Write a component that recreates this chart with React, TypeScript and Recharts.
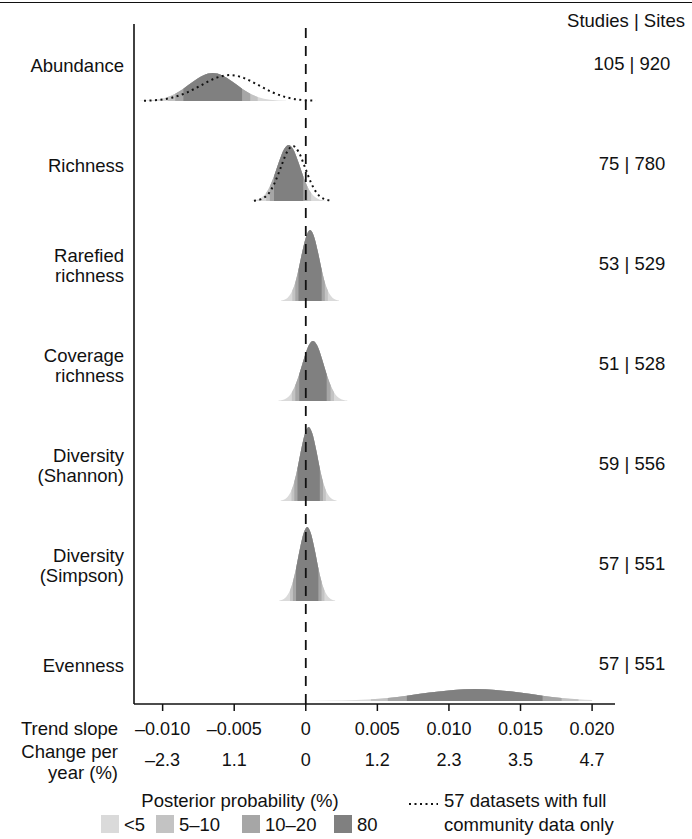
import React from 'react';
import {ComposedChart, Area, Line, XAxis, YAxis, ReferenceLine, Label} from 'recharts';

const FONT = '"Liberation Sans", Arial, Helvetica, sans-serif';
const INK = '#111';
const TEXT_SIZE = 18.5;
const TICK_SIZE = 18;

const ROW_LABELS = [
    ['Abundance'],
    ['Richness'],
    ['Rarefied', 'richness'],
    ['Coverage', 'richness'],
    ['Diversity', '(Shannon)'],
    ['Diversity', '(Simpson)'],
    ['Evenness'],
];
const STUDIES_SITES = ['105 | 920', '75 | 780', '53 | 529', '51 | 528', '59 | 556', '57 | 551', '57 | 551'];

const SLOPE_TICKS = [-0.01, -0.005, 0, 0.005, 0.01, 0.015, 0.02];
const SLOPE_LABELS = ['–0.010', '–0.005', '0', '0.005', '0.010', '0.015', '0.020'];
const PCT_LABELS = ['–2.3', '1.1', '0', '1.2', '2.3', '3.5', '4.7'];

// posterior densities: trend slope and ridge height (in row units)
const ABUNDANCE_X = [-0.01162, -0.0105, -0.00964, -0.00912, -0.00855, -0.00786, -0.00714, -0.0065, -0.00586, -0.00514, -0.00445, -0.00388, -0.00336, -0.0025, -0.00138];
const ABUNDANCE_H = [0.002, 0.012, 0.041, 0.073, 0.123, 0.195, 0.258, 0.28, 0.258, 0.195, 0.123, 0.073, 0.041, 0.012, 0.002];
const RICHNESS_X = [-0.00376, -0.0032, -0.00277, -0.00251, -0.00222, -0.00188, -0.00152, -0.0012, -0.00088, -0.00052, -0.00018, 0.00011, 0.00037, 0.0008, 0.00136];
const RICHNESS_H = [0.003, 0.025, 0.082, 0.146, 0.247, 0.39, 0.517, 0.56, 0.517, 0.39, 0.247, 0.146, 0.082, 0.025, 0.003];
const RAREFIED_X = [-0.00172, -0.00128, -0.00094, -0.00073, -0.00051, -0.00024, 0.00005, 0.0003, 0.00055, 0.00084, 0.00111, 0.00133, 0.00154, 0.00188, 0.00232];
const RAREFIED_H = [0.004, 0.031, 0.104, 0.185, 0.313, 0.495, 0.655, 0.71, 0.655, 0.495, 0.313, 0.185, 0.104, 0.031, 0.004];
const COVERAGE_X = [-0.0019, -0.00138, -0.00097, -0.00073, -0.00046, -0.00014, 0.0002, 0.0005, 0.0008, 0.00114, 0.00146, 0.00173, 0.00197, 0.00238, 0.0029];
const COVERAGE_H = [0.004, 0.026, 0.088, 0.157, 0.265, 0.418, 0.554, 0.6, 0.554, 0.418, 0.265, 0.157, 0.088, 0.026, 0.004];
const SHANNON_X = [-0.00175, -0.00133, -0.001, -0.0008, -0.00058, -0.00032, -0.00004, 0.0002, 0.00044, 0.00072, 0.00098, 0.0012, 0.0014, 0.00173, 0.00215];
const SHANNON_H = [0.004, 0.033, 0.108, 0.193, 0.326, 0.516, 0.683, 0.74, 0.683, 0.516, 0.326, 0.193, 0.108, 0.033, 0.004];
const SIMPSON_X = [-0.00185, -0.00143, -0.0011, -0.0009, -0.00068, -0.00042, -0.00014, 0.0001, 0.00034, 0.00062, 0.00088, 0.0011, 0.0013, 0.00163, 0.00205];
const SIMPSON_H = [0.004, 0.033, 0.108, 0.193, 0.326, 0.516, 0.683, 0.74, 0.683, 0.516, 0.326, 0.193, 0.108, 0.033, 0.004];
const EVENNESS_X = [0, 0.00255, 0.00455, 0.00573, 0.00706, 0.00865, 0.01032, 0.0118, 0.01328, 0.01495, 0.01654, 0.01787, 0.01905, 0.02];
const EVENNESS_H = [0.001, 0.005, 0.018, 0.031, 0.053, 0.084, 0.111, 0.12, 0.111, 0.084, 0.053, 0.031, 0.018, 0.01];

// central 80 / 90 / 95 % intervals, top row first
const CI80 = [[-0.00855, -0.00445], [-0.00222, -0.00018], [-0.00051, 0.00111], [-0.00046, 0.00146], [-0.00058, 0.00098], [-0.00068, 0.00088], [0.00706, 0.01654]];
const CI90 = [[-0.00912, -0.00388], [-0.00251, 0.00011], [-0.00073, 0.00133], [-0.00073, 0.00173], [-0.0008, 0.0012], [-0.0009, 0.0011], [0.00573, 0.01787]];
const CI95 = [[-0.00964, -0.00336], [-0.00277, 0.00037], [-0.00094, 0.00154], [-0.00097, 0.00197], [-0.001, 0.0014], [-0.0011, 0.0013], [0.00455, 0.01905]];

// the 57 datasets with full community data (dotted)
const ABUNDANCE_SUB_X = [-0.0113, -0.0103, -0.0093, -0.0083, -0.0073, -0.0063, -0.0053, -0.0043, -0.0033, -0.0023, -0.0013, -0.0003, 0.0007];
const ABUNDANCE_SUB_H = [0.003, 0.011, 0.035, 0.085, 0.158, 0.229, 0.26, 0.229, 0.158, 0.085, 0.035, 0.011, 0.003];
const RICHNESS_SUB_X = [-0.00362, -0.00303, -0.0026, -0.00218, -0.00175, -0.00133, -0.0009, -0.00048, -0.00005, 0.00038, 0.0008, 0.00123, 0.00182];
const RICHNESS_SUB_H = [0.003, 0.024, 0.074, 0.179, 0.334, 0.485, 0.55, 0.485, 0.334, 0.179, 0.074, 0.024, 0.003];

const DENSITY_X = [ABUNDANCE_X, RICHNESS_X, RAREFIED_X, COVERAGE_X, SHANNON_X, SIMPSON_X, EVENNESS_X];
const DENSITY_H = [ABUNDANCE_H, RICHNESS_H, RAREFIED_H, COVERAGE_H, SHANNON_H, SIMPSON_H, EVENNESS_H];
const SUBSET_X = [ABUNDANCE_SUB_X, RICHNESS_SUB_X];
const SUBSET_H = [ABUNDANCE_SUB_H, RICHNESS_SUB_H];

const SHADES = ['#dadada', '#c3c3c3', '#a6a6a6', '#808080'];
const SHADE_LABELS = ['<5', '5–10', '10–20', '80'];

const ROWS = ROW_LABELS.length;
const LABEL_LIFT = 0.355;
const COUNT_LIFT = 0.38;

type Pt = {x: number; h: number};

const baseOf = (i: number) => ROWS - 1 - i;
const toPoints = (xs: number[], hs: number[]): Pt[] => xs.map((x, k) => ({x, h: hs[k]}));
const within = (pts: Pt[], [lo, hi]: number[]) => pts.filter((p) => p.x >= lo - 1e-9 && p.x <= hi + 1e-9);

const rowIndex = (value: number, lift: number) => Math.round(ROWS - 1 - (value - lift));

function RowLabel({x, y, payload}: any) {
    const lines = ROW_LABELS[rowIndex(payload.value, LABEL_LIFT)] || [];
    return (
        <text x={x} textAnchor="end" fontSize={TEXT_SIZE} fontFamily={FONT} fill={INK}>
            {lines.map((line, k) => (
                <tspan key={k} x={x} y={y + (k - (lines.length - 1) / 2) * 20 + 6.5}>
                    {line}
                </tspan>
            ))}
        </text>
    );
}

function CountLabel({x, y, payload}: any) {
    return (
        <text x={x + 17} y={y + 6.5} textAnchor="middle" fontSize={TEXT_SIZE} fontFamily={FONT} fill={INK}>
            {STUDIES_SITES[rowIndex(payload.value, COUNT_LIFT)]}
        </text>
    );
}

function SlopeTick({x, y, payload}: any) {
    const k = SLOPE_TICKS.indexOf(payload.value);
    return (
        <g fontSize={TICK_SIZE} fontFamily={FONT} fill={INK} textAnchor="middle">
            <text x={x} y={y + 21.5}>{SLOPE_LABELS[k]}</text>
            <text x={x} y={y + 53}>{PCT_LABELS[k]}</text>
        </g>
    );
}

function AxisCaption({viewBox}: any) {
    const x = viewBox.x - 16;
    const y = viewBox.y;
    return (
        <g fontSize={TEXT_SIZE} fontFamily={FONT} fill={INK} textAnchor="end">
            <text x={x} y={y + 30.5}>Trend slope</text>
            <text x={x} y={y + 53.5}>Change per</text>
            <text x={x} y={y + 74.5}>year (%)</text>
        </g>
    );
}

function CountHeader({viewBox}: any) {
    return (
        <text x={viewBox.x + viewBox.width - 7} y={viewBox.y + 3} textAnchor="end" fontSize={TEXT_SIZE} fontFamily={FONT} fill={INK}>
            Studies | Sites
        </text>
    );
}

function LegendBlock() {
    const swatchX = [101, 156, 242, 334];
    return (
        <svg width={692} height={839} style={{position: 'absolute', left: 0, top: 0, pointerEvents: 'none'}}>
            <line x1={0} x2={692} y1={2.5} y2={2.5} stroke={INK} strokeWidth={1} />
            <g fontSize={TEXT_SIZE} fontFamily={FONT} fill={INK}>
                <text x={240} y={806.5} textAnchor="middle">Posterior probability (%)</text>
                {SHADE_LABELS.map((label, k) => (
                    <g key={label}>
                        <rect x={swatchX[k]} y={815} width={18} height={18} fill={SHADES[k]} />
                        <text x={swatchX[k] + 23} y={830.5}>{label}</text>
                    </g>
                ))}
                <line x1={409} x2={438} y1={804} y2={804} stroke={INK} strokeWidth={2} strokeDasharray="2 3.5" />
                <text x={444} y={806.5}>57 datasets with full</text>
                <text x={444} y={830.5}>community data only</text>
            </g>
        </svg>
    );
}

export default function App() {
    const labelTicks = ROW_LABELS.map((_, i) => baseOf(i) + LABEL_LIFT);
    const countTicks = ROW_LABELS.map((_, i) => baseOf(i) + COUNT_LIFT);

    return (
        <div style={{position: 'absolute', left: 0, top: 0, width: 692, height: 839, background: '#fff'}}>
            <ComposedChart width={692} height={839} margin={{top: 24, right: 0, bottom: 75, left: 0}}>
                <XAxis
                    dataKey="x"
                    type="number"
                    domain={[-0.012, 0.0216]}
                    allowDataOverflow
                    ticks={SLOPE_TICKS}
                    interval={0}
                    height={60}
                    tickSize={7}
                    tickMargin={2}
                    tick={(p: any) => <SlopeTick {...p} />}
                    axisLine={{stroke: INK, strokeWidth: 1.5}}
                    tickLine={{stroke: INK, strokeWidth: 1.5}}
                >
                    <Label content={(p: any) => <AxisCaption {...p} />} />
                </XAxis>
                <YAxis
                    yAxisId="rows"
                    type="number"
                    domain={[-0.03, 6.77]}
                    allowDataOverflow
                    width={134}
                    ticks={labelTicks}
                    interval={0}
                    tickSize={0}
                    tickMargin={10}
                    tickLine={false}
                    tick={(p: any) => <RowLabel {...p} />}
                    axisLine={{stroke: INK, strokeWidth: 1.6}}
                />
                <YAxis
                    yAxisId="counts"
                    orientation="right"
                    type="number"
                    domain={[-0.03, 6.77]}
                    allowDataOverflow
                    width={77}
                    ticks={countTicks}
                    interval={0}
                    tickSize={0}
                    tickMargin={0}
                    tickLine={false}
                    axisLine={false}
                    tick={(p: any) => <CountLabel {...p} />}
                >
                    <Label content={(p: any) => <CountHeader {...p} />} />
                </YAxis>

                {DENSITY_X.map((xs, i) => {
                    const pts = toPoints(xs, DENSITY_H[i]);
                    const base = baseOf(i);
                    const layers = [pts, within(pts, CI95[i]), within(pts, CI90[i]), within(pts, CI80[i])];
                    return layers.map((data, s) => (
                        <Area
                            key={`ridge-${i}-${s}`}
                            yAxisId="rows"
                            data={data}
                            dataKey={(d: Pt) => [base, base + d.h]}
                            type="monotone"
                            stroke="none"
                            fill={SHADES[s]}
                            fillOpacity={1}
                            dot={false}
                            activeDot={false}
                            isAnimationActive={false}
                        />
                    ));
                })}

                {SUBSET_X.map((xs, i) => {
                    const base = baseOf(i);
                    return (
                        <Line
                            key={`subset-${i}`}
                            yAxisId="rows"
                            data={toPoints(xs, SUBSET_H[i])}
                            dataKey={(d: Pt) => base + d.h}
                            type="monotone"
                            stroke={INK}
                            strokeWidth={2}
                            strokeDasharray="2 3.5"
                            dot={false}
                            activeDot={false}
                            isAnimationActive={false}
                        />
                    );
                })}

                <ReferenceLine yAxisId="rows" x={0} stroke={INK} strokeWidth={1.8} strokeDasharray="10 8" />
            </ComposedChart>
            <LegendBlock />
        </div>
    );
}
